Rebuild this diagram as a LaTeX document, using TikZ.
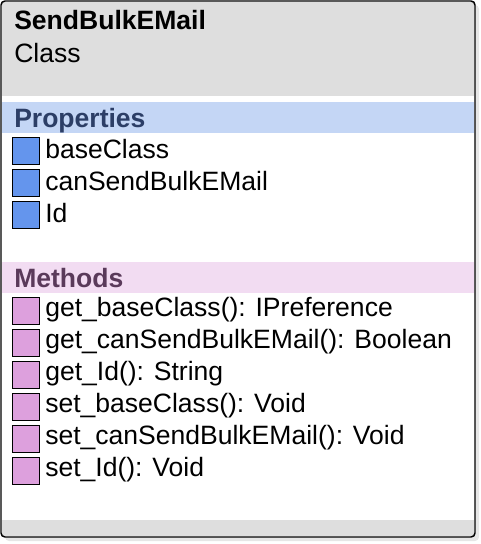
\documentclass[tikz,border=0pt]{standalone}
\usepackage{fontspec}
\setmainfont{Liberation Sans}
\usetikzlibrary{positioning}
\definecolor{headGray}{HTML}{DEDEDE}
\definecolor{shadowGray}{HTML}{E6E6E6}
\definecolor{propBand}{HTML}{C4D6F5}
\definecolor{propText}{HTML}{2C3E66}
\definecolor{methBand}{HTML}{F2DCF2}
\definecolor{methText}{HTML}{5A3A5A}
\definecolor{propIcon}{HTML}{6495ED}
\definecolor{methIcon}{HTML}{DDA0DD}
\tikzstyle{itemText} = [anchor=base west, inner sep=0pt, text=black,
	font=\fontsize{19.9}{24}\selectfont]
\tikzstyle{bandText} = [itemText, font=\fontsize{19.9}{24}\selectfont\bfseries]
\tikzstyle{iconBox} = [shape=rectangle, draw=black, line width=0.8pt,
	minimum size=20.5pt, inner sep=0pt, anchor=north west]
\tikzstyle{PropIcon} = [iconBox, fill=propIcon]
\tikzstyle{MethIcon} = [iconBox, fill=methIcon]

\begin{document}
\begin{tikzpicture}[x=0.75pt, y=-0.75pt]
  \useasboundingbox (0,0) rectangle (481,544);
  % shadow and frame
  \fill[shadowGray, rounded corners=3pt] (5,5) rectangle (479,541);
  \fill[white, rounded corners=3pt] (1,1) rectangle (475,537);
  \fill[headGray] (2,2) rectangle (474,96);
  \fill[propBand] (2,102) rectangle (474,133);
  \fill[methBand] (2,262) rectangle (474,293);
  \fill[headGray] (2,520) rectangle (474,536);
  \draw[black, line width=1.1pt, rounded corners=3pt] (1,1) rectangle (475,537);

  \node (TITLE) [bandText] at (14,29) {SendBulkEMail};
  \node (KIND) [itemText] at (14,62) {Class};

  \node (PROPS) [bandText, text=propText] at (14,127) {Properties};
  \node (P1) [PropIcon] at (12,137) {};
  \node (P2) [PropIcon] at (12,169) {};
  \node (P3) [PropIcon] at (12,201) {};
  \node (p1) [itemText] at (45,158) {baseClass};
  \node (p2) [itemText] at (45,190) {canSendBulkEMail};
  \node (p3) [itemText] at (45,222) {Id};

  \node (METHS) [bandText, text=methText] at (14,287) {Methods};
  \node (M1) [MethIcon] at (12,297) {};
  \node (M2) [MethIcon] at (12,329) {};
  \node (M3) [MethIcon] at (12,361) {};
  \node (M4) [MethIcon] at (12,393) {};
  \node (M5) [MethIcon] at (12,425) {};
  \node (M6) [MethIcon] at (12,457) {};
  \node (m1) [itemText] at (45,316) {get\_baseClass(): IPreference};
  \node (m2) [itemText] at (45,348) {get\_canSendBulkEMail(): Boolean};
  \node (m3) [itemText] at (45,380) {get\_Id(): String};
  \node (m4) [itemText] at (45,412) {set\_baseClass(): Void};
  \node (m5) [itemText] at (45,444) {set\_canSendBulkEMail(): Void};
  \node (m6) [itemText] at (45,476) {set\_Id(): Void};
\end{tikzpicture}
\end{document}
